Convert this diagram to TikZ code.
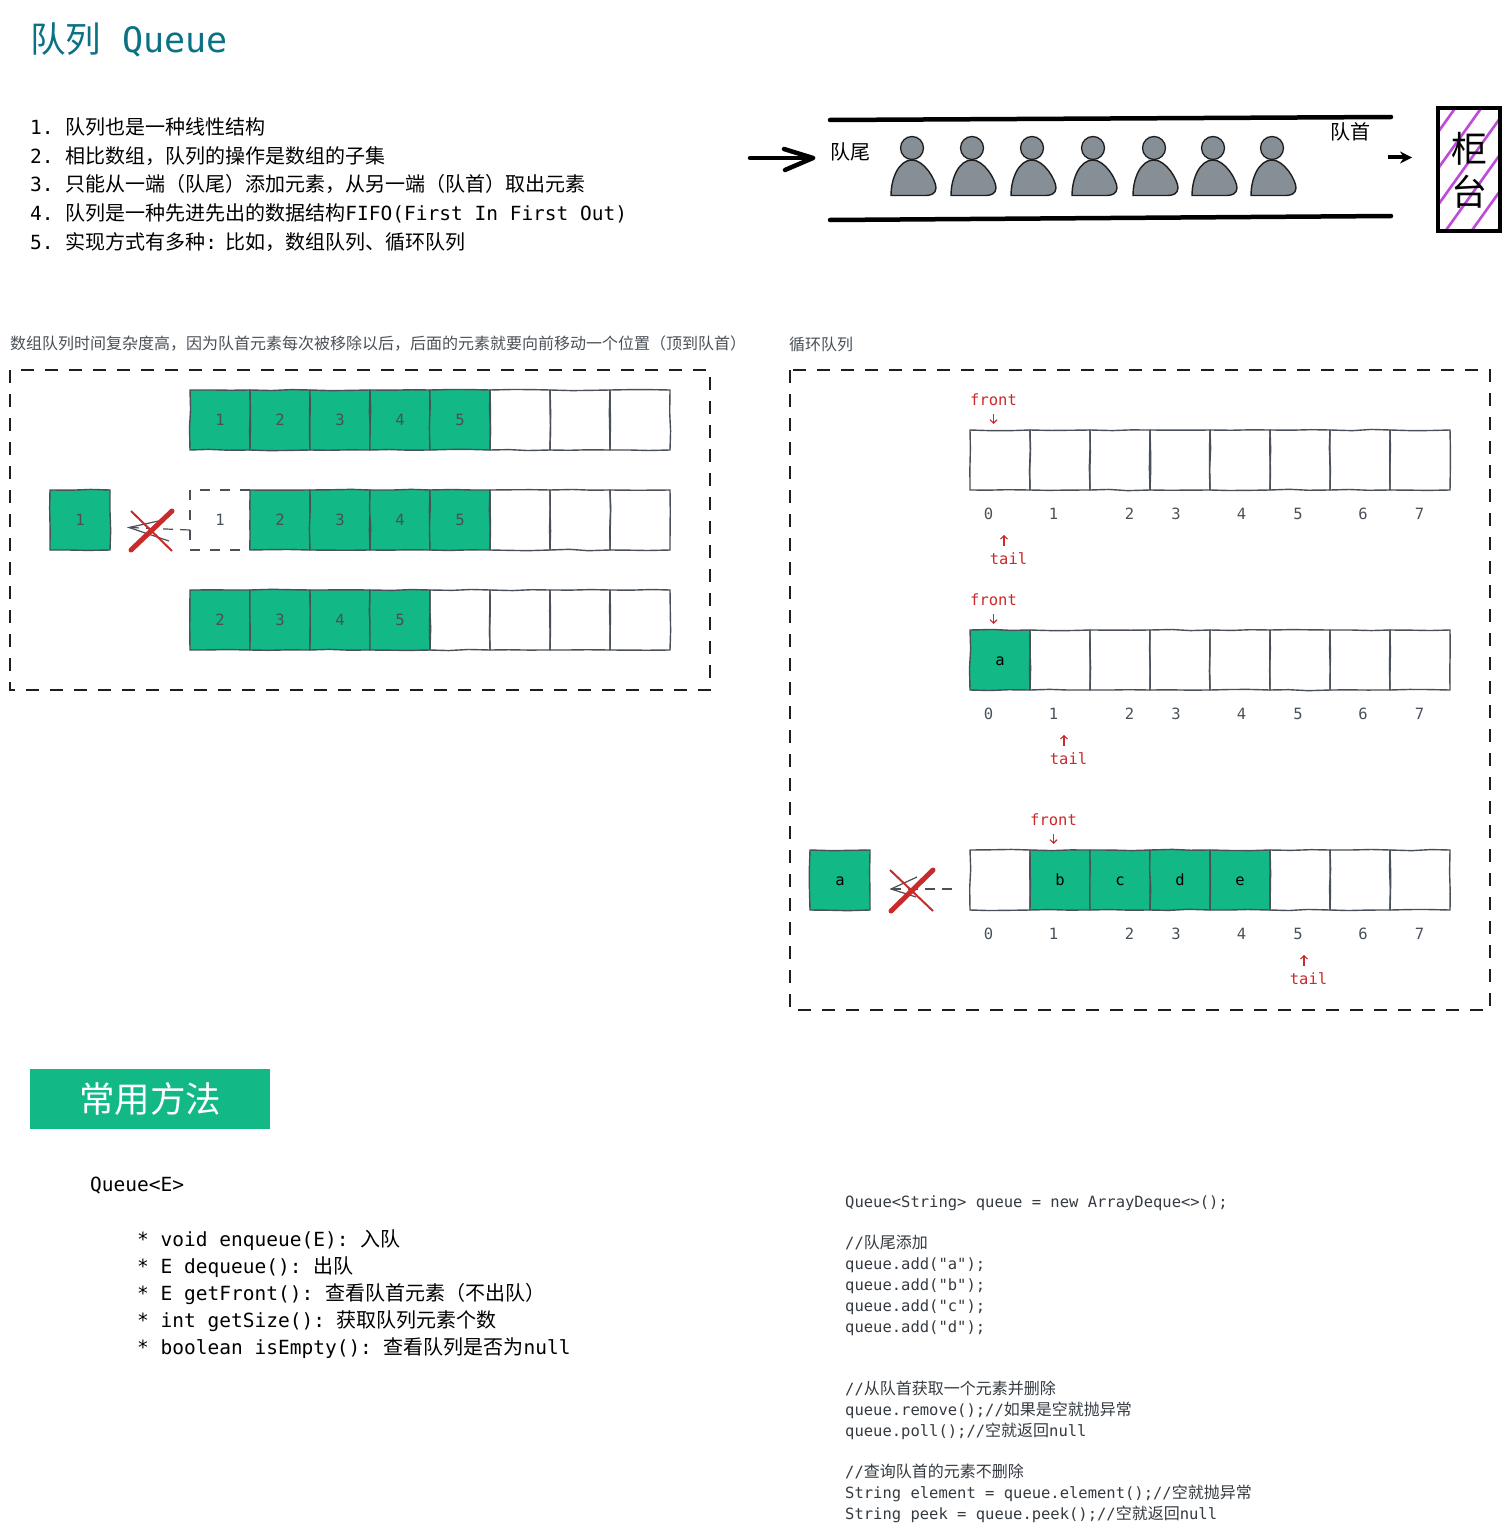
\documentclass[tikz,border=0pt]{standalone}
\usepackage{fontspec}
\usetikzlibrary{arrows.meta,decorations.pathmorphing,calc}
\setmonofont{DejaVu Sans Mono}
\renewcommand{\familydefault}{\ttdefault}
\newfontfamily\cjkf{Noto Sans CJK SC}
\newcommand\Cs[2]{{\cjkf\fontsize{#1pt}{#1pt}\selectfont #2}}
\newcommand\Ca[1]{\Cs{20}{#1}}
\newcommand\Cb[1]{\Cs{16}{#1}}
\newcommand\lab[1]{\raisebox{-1pt}{\vphantom{0}#1}}
\definecolor{ink}{HTML}{1E1E1E}
\definecolor{slate}{HTML}{495057}
\definecolor{code}{HTML}{343A40}
\definecolor{grn}{HTML}{12B886}
\definecolor{redx}{HTML}{C92A2A}
\definecolor{teal2}{HTML}{0B7285}
\definecolor{pers}{HTML}{868E96}
\definecolor{purp}{HTML}{BE4BDB}
\tikzset{
 x=1pt,y=-1pt,
 sk/.style={decoration={random steps,segment length=19pt,amplitude=.7pt},decorate},
 cell/.style={sk,draw=slate,line width=1.4pt,minimum size=60pt,inner sep=0pt,outer sep=0pt,text=slate,font=\fontsize{15.5pt}{16pt}\selectfont},
 gcell/.style={cell,fill=grn},
 gcellk/.style={cell,fill=grn,text=black},
 dcell/.style={draw=slate,line width=1.2pt,dash pattern=on 10pt off 10pt,minimum size=60pt,inner sep=0pt,outer sep=0pt,text=slate,font=\fontsize{15.5pt}{16pt}\selectfont},
 big/.style={inner sep=0pt,anchor=base west,text=black,font=\fontsize{19.5pt}{20pt}\selectfont\frenchspacing},
 codet/.style={inner sep=0pt,anchor=base west,text=code,font=\fontsize{15.5pt}{17pt}\selectfont\frenchspacing},
 captxt/.style={inner sep=0pt,anchor=base west,text=slate},
 idx/.style={inner sep=0pt,text=slate,font=\fontsize{15.5pt}{16pt}\selectfont},
 redt/.style={inner sep=0pt,text=redx,font=\fontsize{15.5pt}{16pt}\selectfont},
 redarr/.style={draw=redx,line width=1.1pt,-{Straight Barb[length=3.5pt,width=7pt]}},
 frame/.style={draw=ink,line width=1.4pt,dash pattern=on 13pt off 11pt},
 thickbar/.style={draw=black,line width=4.5pt,line cap=round},
 bigarrow/.style={draw=black,line width=4.5pt,line cap=round,line join=round},
 personbody/.style={draw=ink,line width=1.4pt,fill=pers},
 personhead/.style={circle,draw=ink,line width=1.3pt,fill=pers,minimum size=23pt,inner sep=0pt},
 xthick/.style={draw=redx,line width=5pt,line cap=round},
 xthin/.style={draw=redx,line width=2pt},
 barb/.style={draw=slate,line width=1.2pt},
 dashc/.style={draw=slate,line width=1.2pt,dash pattern=on 10pt off 7pt}
}
\begin{document}
\begin{tikzpicture}
\useasboundingbox (0,0) rectangle (1509,1533);
% title
\node[inner sep=0pt,anchor=base west,text=teal2,font=\fontsize{35pt}{36pt}\selectfont\frenchspacing] (title) at (30,53) {\Cs{35.5}{队列} Queue};
% intro
\node[big] (l1) at (30,134.5) {1. \Ca{队列也是一种线性结构}};
\node[big] (l2) at (30,163.5) {2. \Ca{相比数组，队列的操作是数组的子集}};
\node[big] (l3) at (30,191.5) {3. \Ca{只能从一端（队尾）添加元素，从另一端（队首）取出元素}};
\node[big] (l4) at (30,220.5) {4. \Ca{队列是一种先进先出的数据结构}FIFO(First In First Out)};
\node[big] (l5) at (30,249.5) {5. \Ca{实现方式有多种}:\hspace{8pt}\Ca{比如，数组队列、循环队列}};
% queue picture
\coordinate (ta) at (830,120); \coordinate (tb) at (1391,117);
\coordinate (ba) at (830,220); \coordinate (bb) at (1391,216);
\draw[thickbar] (ta) -- (tb);
\draw[thickbar] (ba) -- (bb);
\coordinate (ain) at (750,158); \coordinate (aint) at (813,158);
\draw[bigarrow] (ain) -- (aint);
\draw[bigarrow] (784,149) -- (aint) -- (785,170);
\coordinate (aout) at (1388,157.5); \coordinate (aoutt) at (1412,157.5);
\draw[draw=black,line width=4pt,-{Stealth[length=12pt,width=12pt]}] (aout) -- (aoutt);
\node[inner sep=0pt,anchor=base west] (qtail) at (830,160) {\Ca{队尾}};
\node[inner sep=0pt,anchor=base west] (qhead) at (1330,140) {\Ca{队首}};
\foreach \n/\px in {1/912,2/972,3/1032,4/1093,5/1154,6/1213,7/1272}{
  \draw[personbody] (\px-21,195.5) .. controls (\px-21,178) and (\px-13,160) .. (\px,160)
     .. controls (\px+12,160) and (\px+24,180) .. (\px+24,188)
     .. controls (\px+24,194) and (\px+18,195.5) .. (\px+14,195.5) -- cycle;
  \node[personhead] (head\n) at (\px,148) {};
}
\begin{scope}
\clip (1438,108) rectangle (1500,231);
\foreach \k in {-72,-46,...,60}{
  \draw[purp,line width=2.6pt] (1438+\k,233) -- (1438+\k+90,107);
}
\end{scope}
\node[draw=black,line width=4pt,minimum width=62pt,minimum height=122pt,inner sep=0pt] (counter) at (1469,169.5) {};
\node[inner sep=0pt] (ch1) at (1469,149) {\Cs{36}{柜}};
\node[inner sep=0pt] (ch2) at (1469,192) {\Cs{36}{台}};
% left panel
\node[captxt] (capl) at (10,349.5) {\Cb{数组队列时间复杂度高，因为队首元素每次被移除以后，后面的元素就要向前移动一个位置（顶到队首）}};
\node[captxt] (capr) at (789,350.5) {\Cb{循环队列}};
\draw[frame] (10,370) rectangle (710,690);
\draw[frame] (790,370) rectangle (1490,1010);
% rows
\foreach \n/\t [count=\i from 0] in {a1/1,a2/2,a3/3,a4/4,a5/5}{
  \node[gcell] (\n) at (220+60*\i,420) {\lab{\t}};
}
\foreach \n [count=\i from 5] in {a6,a7,a8}{
  \node[cell] (\n) at (220+60*\i,420) {};
}
\node[gcell] (out1) at (80,520) {\lab{1}};
\node[dcell] (b1) at (220,520) {\lab{1}};
\foreach \n/\t [count=\i from 1] in {b2/2,b3/3,b4/4,b5/5}{
  \node[gcell] (\n) at (220+60*\i,520) {\lab{\t}};
}
\foreach \n [count=\i from 5] in {b6,b7,b8}{
  \node[cell] (\n) at (220+60*\i,520) {};
}
\foreach \n/\t [count=\i from 0] in {c1/2,c2/3,c3/4,c4/5}{
  \node[gcell] (\n) at (220+60*\i,620) {\lab{\t}};
}
\foreach \n [count=\i from 4] in {c5,c6,c7,c8}{
  \node[cell] (\n) at (220+60*\i,620) {};
}
\coordinate (d1s) at (190,530); \coordinate (d1t) at (129,527.5);
\draw[dashc] (d1s) -- (d1t);
\draw[barb] (163,520) -- (d1t) -- (169,541);
\draw[xthin] (131,511) -- (172,551);
\draw[xthick] (131,550) -- (172,511);
% right panel
\foreach \n [count=\i from 0] in {p0,p1,p2,p3,p4,p5,p6,p7}{
  \node[cell] (\n) at (1000+60*\i,460) {};
}
\node[gcellk] (q0) at (1000,660) {\lab{a}};
\foreach \n [count=\i from 1] in {q1,q2,q3,q4,q5,q6,q7}{
  \node[cell] (\n) at (1000+60*\i,660) {};
}
\node[cell] (r0) at (1000,880) {};
\foreach \n/\t [count=\i from 1] in {r1/b,r2/c,r3/d,r4/e}{
  \node[gcellk] (\n) at (1000+60*\i,880) {\lab{\t}};
}
\foreach \n [count=\i from 5] in {r5,r6,r7}{
  \node[cell] (\n) at (1000+60*\i,880) {};
}
\foreach \yy/\pre in {514/u,714/v,934/w}{
  \foreach \t/\xx in {0/988.5,1/1053.5,2/1129.5,3/1176,4/1241.5,5/1298,6/1363,7/1419.5}{
    \node[idx] (\pre\t) at (\xx,\yy) {\t};
  }
}
\node[gcellk] (out2) at (840,880) {\lab{a}};
\coordinate (d2s) at (952,889); \coordinate (d2t) at (891,889);
\draw[dashc] (d2s) -- (d2t);
\draw[barb] (917,877) -- (d2t) -- (916,897);
\draw[xthin] (890,870) -- (933,911);
\draw[xthick] (891,911) -- (933,870);
% front / tail
\node[redt] (f1) at (993.5,400) {front};
\node[redt] (f2) at (993.5,600) {front};
\node[redt] (f3) at (1053.5,820) {front};
\draw[redarr,shorten <=8pt,shorten >=6pt] (f1.south) -- (f1.south |- p0.north);
\draw[redarr,shorten <=8pt,shorten >=6pt] (f2.south) -- (f2.south |- q0.north);
\draw[redarr,shorten <=8pt,shorten >=6pt] (f3.south) -- (f3.south |- r1.north);
\node[redt] (t1) at (1008.5,559) {tail};
\node[redt] (t2) at (1068.5,759) {tail};
\node[redt] (t3) at (1308.5,979) {tail};
\draw[redarr] ($(t1.north)+(-4.5,-7)$) -- ++(0,-11);
\draw[redarr] ($(t2.north)+(-4.5,-7)$) -- ++(0,-11);
\draw[redarr] ($(t3.north)+(-4.5,-7)$) -- ++(0,-11);
% header
\node[fill=grn,minimum width=240pt,minimum height=60pt,inner sep=0pt,text=white] (hdr) at (150,1099) {\raisebox{1pt}{\Cs{35.5}{常用方法}}};
% API
\node[big] (api0) at (90,1191.5) {Queue<E>};
\node[big] (api1) at (137,1246.5) {* void enqueue(E): \Ca{入队}};
\node[big] (api2) at (137,1273.5) {* E dequeue(): \Ca{出队}};
\node[big] (api3) at (137,1300.5) {* E getFront(): \Ca{查看队首元素（不出队）}};
\node[big] (api4) at (137,1327.5) {* int getSize(): \Ca{获取队列元素个数}};
\node[big] (api5) at (137,1354.5) {* boolean isEmpty(): \Ca{查看队列是否为}null};
% code
\node[codet] (k1) at (845,1207) {Queue<String> queue = new ArrayDeque<>();};
\node[codet] (k2) at (845,1248) {//\Cb{队尾添加}};
\node[codet] (k3) at (845,1269) {queue.add("a");};
\node[codet] (k4) at (845,1290) {queue.add("b");};
\node[codet] (k5) at (845,1311) {queue.add("c");};
\node[codet] (k6) at (845,1332) {queue.add("d");};
\node[codet] (k7) at (845,1394) {//\Cb{从队首获取一个元素并删除}};
\node[codet] (k8) at (845,1415) {queue.remove();//\Cb{如果是空就抛异常}};
\node[codet] (k9) at (845,1436) {queue.poll();//\Cb{空就返回}null};
\node[codet] (k10) at (845,1477) {//\Cb{查询队首的元素不删除}};
\node[codet] (k11) at (845,1498) {String element = queue.element();//\Cb{空就抛异常}};
\node[codet] (k12) at (845,1519) {String peek = queue.peek();//\Cb{空就返回}null};
\end{tikzpicture}
\end{document}
